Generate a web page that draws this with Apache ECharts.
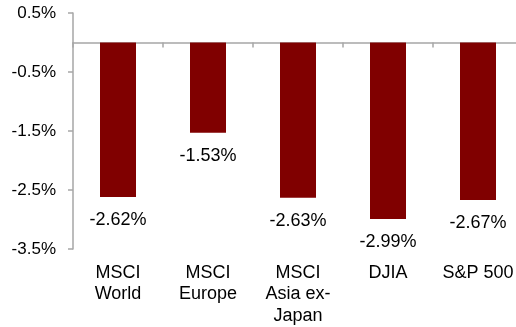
<!DOCTYPE html>
<html>
<head>
<meta charset="utf-8">
<script src="https://cdn.jsdelivr.net/npm/echarts@6/dist/echarts.min.js"></script>
<style>
html,body{margin:0;padding:0;background:#fff;}
#chart{width:516px;height:327px;}
</style>
</head>
<body>
<div id="chart"></div>
<script>
const categories = ['MSCI\nWorld', 'MSCI\nEurope', 'MSCI\nAsia ex-\nJapan', 'DJIA', 'S&P 500'];
const values = [-2.62, -1.53, -2.63, -2.99, -2.67];
const yMin = -3.5, yMax = 0.5, yStep = 1;

const font = '"Liberation Sans", Arial, sans-serif';
const axisGray = '#a6a6a6';
const chart = echarts.init(document.getElementById('chart'), null, {renderer: 'canvas'});
chart.setOption({
  animation: false,
  backgroundColor: '#ffffff',
  grid: {left: 73, top: 13, width: 450, height: 236, containLabel: false, outerBoundsMode: 'none'},
  xAxis: [{
    type: 'category',
    data: categories,
    position: 'bottom',
    axisLine: {show: true, onZero: true, lineStyle: {color: axisGray, width: 1.5}},
    axisTick: {show: true, length: 5, inside: false, lineStyle: {color: axisGray, width: 1.5}},
    axisLabel: {show: false},
    splitLine: {show: false}
  }, {
    type: 'category',
    data: categories,
    position: 'bottom',
    axisLine: {show: false, onZero: false},
    axisTick: {show: false},
    axisLabel: {show: true, margin: 13, fontFamily: font, fontSize: 18, lineHeight: 21.5, color: '#000', interval: 0, align: 'center'},
    splitLine: {show: false}
  }],
  yAxis: {
    type: 'value',
    min: yMin, max: yMax, interval: yStep,
    axisLine: {show: true, lineStyle: {color: axisGray, width: 1.5}},
    axisTick: {show: true, length: 5, lineStyle: {color: axisGray, width: 1.5}},
    axisLabel: {margin: 17, fontFamily: font, fontSize: 17, color: '#000', formatter: v => v.toFixed(1) + '%'},
    splitLine: {show: false}
  },
  series: [{
    type: 'bar',
    xAxisIndex: 0,
    data: values,
    barWidth: 36,
    itemStyle: {color: '#800000'},
    label: {show: true, position: 'bottom', distance: 14, fontFamily: font, fontSize: 18, color: '#000', formatter: p => p.value.toFixed(2) + '%'}
  }]
});
</script>
</body>
</html>
